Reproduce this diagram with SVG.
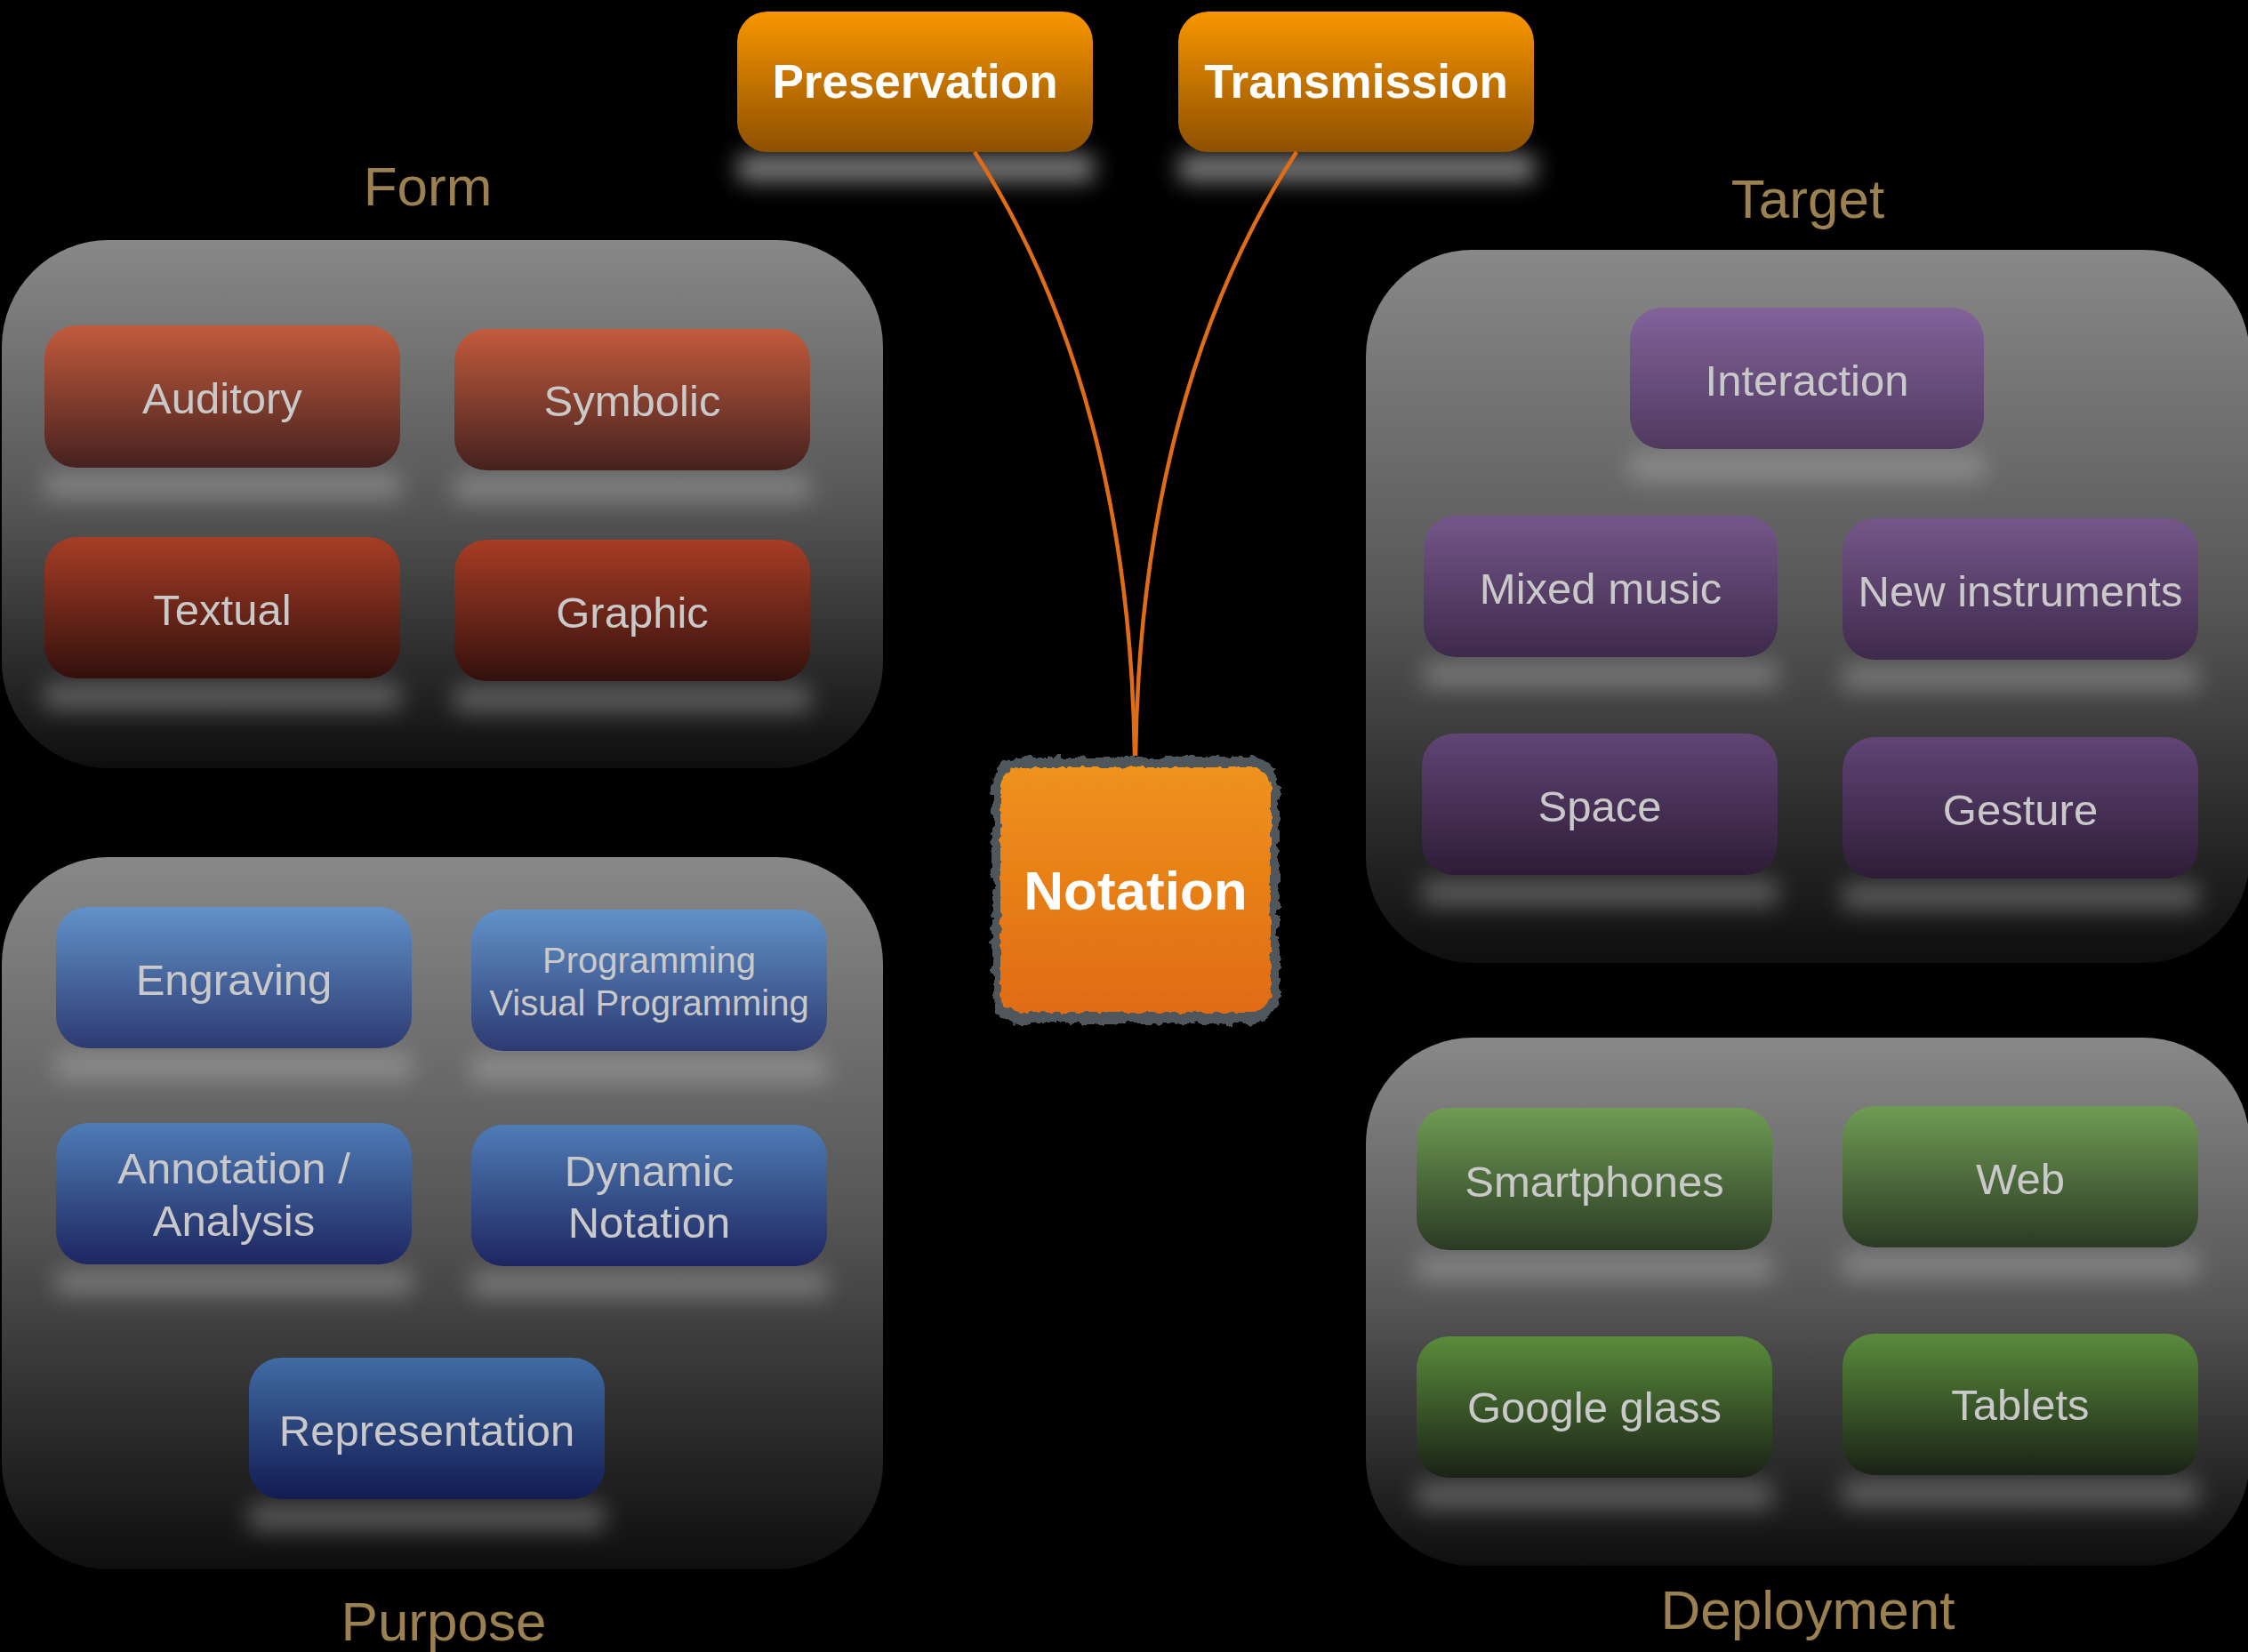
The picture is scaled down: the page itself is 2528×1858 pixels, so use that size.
<svg xmlns="http://www.w3.org/2000/svg" width="2528" height="1858" viewBox="0 0 2528 1858">
<defs>
<style>
.lbl{font-family:"Liberation Sans",Arial,sans-serif;font-size:49px;fill:#C9C9C9;text-anchor:middle}
.sm{font-size:40px}
.ttl{font-family:"Liberation Sans",Arial,sans-serif;font-size:62px;fill:#9B8150;text-anchor:middle}
.top{font-family:"Liberation Sans",Arial,sans-serif;font-size:53px;font-weight:bold;fill:#FFFFFF;text-anchor:middle}
.shd{fill:#C8C8C8;opacity:0.36;filter:url(#blur)}
.tshd{fill:#8C8C8C;opacity:0.9;filter:url(#blur)}
.conn{fill:none;stroke:#E06C16;stroke-width:4.5}
</style>
<linearGradient id="cont" x1="0" y1="0" x2="0" y2="1"><stop offset="0" stop-color="#888888"/><stop offset="0.5" stop-color="#565656"/><stop offset="1" stop-color="#0E0E0E"/></linearGradient>
<linearGradient id="org" x1="0" y1="0" x2="0" y2="1"><stop offset="0" stop-color="#F89600"/><stop offset="1" stop-color="#8E5000"/></linearGradient>
<linearGradient id="not" x1="0" y1="0" x2="0" y2="1"><stop offset="0" stop-color="#EF921E"/><stop offset="1" stop-color="#E06B12"/></linearGradient>
<linearGradient id="red1" x1="0" y1="0" x2="0" y2="1"><stop offset="0" stop-color="#C25B3C"/><stop offset="1" stop-color="#45211F"/></linearGradient>
<linearGradient id="red2" x1="0" y1="0" x2="0" y2="1"><stop offset="0" stop-color="#A73D25"/><stop offset="1" stop-color="#33100D"/></linearGradient>
<linearGradient id="pur1" x1="0" y1="0" x2="0" y2="1"><stop offset="0" stop-color="#81639A"/><stop offset="1" stop-color="#50395F"/></linearGradient>
<linearGradient id="pur2" x1="0" y1="0" x2="0" y2="1"><stop offset="0" stop-color="#74578A"/><stop offset="1" stop-color="#3E2A4B"/></linearGradient>
<linearGradient id="pur3" x1="0" y1="0" x2="0" y2="1"><stop offset="0" stop-color="#604575"/><stop offset="1" stop-color="#2E1C37"/></linearGradient>
<linearGradient id="blu1" x1="0" y1="0" x2="0" y2="1"><stop offset="0" stop-color="#6192C9"/><stop offset="1" stop-color="#2D3A72"/></linearGradient>
<linearGradient id="blu2" x1="0" y1="0" x2="0" y2="1"><stop offset="0" stop-color="#4F7CB6"/><stop offset="1" stop-color="#1E2660"/></linearGradient>
<linearGradient id="blu3" x1="0" y1="0" x2="0" y2="1"><stop offset="0" stop-color="#406BA3"/><stop offset="1" stop-color="#121C52"/></linearGradient>
<linearGradient id="grn1" x1="0" y1="0" x2="0" y2="1"><stop offset="0" stop-color="#6F9C53"/><stop offset="1" stop-color="#2B3A24"/></linearGradient>
<linearGradient id="grn2" x1="0" y1="0" x2="0" y2="1"><stop offset="0" stop-color="#5A8C3C"/><stop offset="1" stop-color="#1A2216"/></linearGradient>
<filter id="blur" x="-20%" y="-200%" width="140%" height="500%"><feGaussianBlur stdDeviation="13"/></filter>
<filter id="rough" x="-10%" y="-10%" width="120%" height="120%"><feTurbulence type="fractalNoise" baseFrequency="0.09" numOctaves="3" seed="4"/><feDisplacementMap in="SourceGraphic" scale="12" xChannelSelector="R" yChannelSelector="G"/></filter>
<filter id="rough2" x="-10%" y="-10%" width="120%" height="120%"><feTurbulence type="fractalNoise" baseFrequency="0.12" numOctaves="2" seed="9"/><feDisplacementMap in="SourceGraphic" scale="7" xChannelSelector="R" yChannelSelector="G"/></filter>
</defs>
<rect width="2528" height="1858" fill="#000000"/>

<g id="group-form">
<rect x="2" y="270" width="991" height="594" rx="120" fill="url(#cont)"/>
<text class="ttl" x="481" y="231">Form</text>
</g>
<g id="group-purpose">
<rect x="2" y="964" width="991" height="801" rx="120" fill="url(#cont)"/>
<text class="ttl" x="499" y="1845">Purpose</text>
</g>
<g id="group-target">
<rect x="1536" y="281" width="994" height="802" rx="120" fill="url(#cont)"/>
<text class="ttl" x="2033" y="245">Target</text>
</g>
<g id="group-deployment">
<rect x="1536" y="1167" width="994" height="594" rx="120" fill="url(#cont)"/>
<text class="ttl" x="2033" y="1832">Deployment</text>
</g>

<g id="node-preservation">
<rect class="tshd" x="830" y="174" width="400" height="30"/>
<rect x="829" y="13" width="400" height="158" rx="34" fill="url(#org)"/>
<text class="top" x="1029" y="110">Preservation</text>
</g>
<g id="node-transmission">
<rect class="tshd" x="1326" y="174" width="400" height="30"/>
<rect x="1325" y="13" width="400" height="158" rx="34" fill="url(#org)"/>
<text class="top" x="1525" y="110">Transmission</text>
</g>

<g id="connectors">
<path class="conn" d="M1096,171 C1212,350 1272,580 1276,850"/>
<path class="conn" d="M1458,171 C1341,350 1281,580 1277,850"/>
</g>

<g id="node-notation">
<rect x="1116" y="852" width="322" height="300" rx="30" fill="#50565C" filter="url(#rough)"/>
<rect x="1125" y="863" width="304" height="276" rx="22" fill="url(#not)" filter="url(#rough2)"/>
<text class="top" x="1277" y="1023" style="font-size:62px">Notation</text>
</g>

<g id="node-auditory">
<rect class="shd" x="50" y="531" width="400" height="30"/>
<rect x="50" y="366" width="400" height="160" rx="36" fill="url(#red1)"/>
<text class="lbl" x="250" y="465">Auditory</text>
</g>
<g id="node-symbolic">
<rect class="shd" x="511" y="534" width="400" height="30"/>
<rect x="511" y="370" width="400" height="159" rx="36" fill="url(#red1)"/>
<text class="lbl" x="711" y="468">Symbolic</text>
</g>
<g id="node-textual">
<rect class="shd" x="50" y="768" width="400" height="30"/>
<rect x="50" y="604" width="400" height="159" rx="36" fill="url(#red2)"/>
<text class="lbl" x="250" y="703">Textual</text>
</g>
<g id="node-graphic">
<rect class="shd" x="511" y="771" width="400" height="30"/>
<rect x="511" y="607" width="400" height="159" rx="36" fill="url(#red2)"/>
<text class="lbl" x="711" y="706">Graphic</text>
</g>

<g id="node-engraving">
<rect class="shd" x="63" y="1184" width="400" height="30"/>
<rect x="63" y="1020" width="400" height="159" rx="36" fill="url(#blu1)"/>
<text class="lbl" x="263" y="1119">Engraving</text>
</g>
<g id="node-programming">
<rect class="shd" x="530" y="1187" width="400" height="30"/>
<rect x="530" y="1023" width="400" height="159" rx="36" fill="url(#blu1)"/>
<text class="lbl sm" x="730" y="1094">Programming</text>
<text class="lbl sm" x="730" y="1142">Visual Programming</text>
</g>
<g id="node-annotation">
<rect class="shd" x="63" y="1427" width="400" height="30"/>
<rect x="63" y="1263" width="400" height="159" rx="36" fill="url(#blu2)"/>
<text class="lbl" x="263" y="1331">Annotation /</text>
<text class="lbl" x="263" y="1390">Analysis</text>
</g>
<g id="node-dynamic">
<rect class="shd" x="530" y="1429" width="400" height="30"/>
<rect x="530" y="1265" width="400" height="159" rx="36" fill="url(#blu2)"/>
<text class="lbl" x="730" y="1334">Dynamic</text>
<text class="lbl" x="730" y="1392">Notation</text>
</g>
<g id="node-representation">
<rect class="shd" x="280" y="1691" width="400" height="30"/>
<rect x="280" y="1527" width="400" height="159" rx="36" fill="url(#blu3)"/>
<text class="lbl" x="480" y="1626">Representation</text>
</g>

<g id="node-interaction">
<rect class="shd" x="1833" y="510" width="398" height="30"/>
<rect x="1833" y="346" width="398" height="159" rx="36" fill="url(#pur1)"/>
<text class="lbl" x="2032" y="445">Interaction</text>
</g>
<g id="node-mixed-music">
<rect class="shd" x="1601" y="744" width="398" height="30"/>
<rect x="1601" y="580" width="398" height="159" rx="36" fill="url(#pur2)"/>
<text class="lbl" x="1800" y="679">Mixed music</text>
</g>
<g id="node-new-instruments">
<rect class="shd" x="2072" y="747" width="400" height="30"/>
<rect x="2072" y="583" width="400" height="159" rx="36" fill="url(#pur2)"/>
<text class="lbl" x="2272" y="682">New instruments</text>
</g>
<g id="node-space">
<rect class="shd" x="1599" y="989" width="400" height="30"/>
<rect x="1599" y="825" width="400" height="159" rx="36" fill="url(#pur3)"/>
<text class="lbl" x="1799" y="924">Space</text>
</g>
<g id="node-gesture">
<rect class="shd" x="2072" y="993" width="400" height="30"/>
<rect x="2072" y="829" width="400" height="159" rx="36" fill="url(#pur3)"/>
<text class="lbl" x="2272" y="928">Gesture</text>
</g>

<g id="node-smartphones">
<rect class="shd" x="1593" y="1411" width="400" height="30"/>
<rect x="1593" y="1246" width="400" height="160" rx="36" fill="url(#grn1)"/>
<text class="lbl" x="1793" y="1346">Smartphones</text>
</g>
<g id="node-web">
<rect class="shd" x="2072" y="1408" width="400" height="30"/>
<rect x="2072" y="1244" width="400" height="159" rx="36" fill="url(#grn1)"/>
<text class="lbl" x="2272" y="1343">Web</text>
</g>
<g id="node-google-glass">
<rect class="shd" x="1593" y="1667" width="400" height="30"/>
<rect x="1593" y="1503" width="400" height="159" rx="36" fill="url(#grn2)"/>
<text class="lbl" x="1793" y="1600">Google glass</text>
</g>
<g id="node-tablets">
<rect class="shd" x="2072" y="1664" width="400" height="30"/>
<rect x="2072" y="1500" width="400" height="159" rx="36" fill="url(#grn2)"/>
<text class="lbl" x="2272" y="1597">Tablets</text>
</g>
</svg>
